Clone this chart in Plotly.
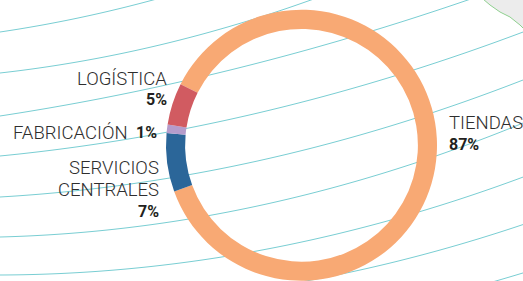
import plotly.graph_objects as go

# ---------------- data ----------------
categories = ["TIENDAS", "SERVICIOS CENTRALES", "FABRICACIÓN", "LOGÍSTICA"]
values = [87, 7, 1, 5]
colors = ["#F8A974", "#2B6699", "#B59CCB", "#D15B61"]

W, H = 523, 281


def px(x):
    return x / W


def py(y):
    return 1 - y / H


fig = go.Figure()

fig.add_trace(go.Pie(
    labels=categories,
    values=values,
    marker=dict(colors=colors, line=dict(width=0)),
    hole=0.859,
    sort=False,
    direction="clockwise",
    rotation=-63.2,
    textinfo="none",
    hoverinfo="label+percent",
    showlegend=False,
    domain=dict(x=[166 / W, 437 / W], y=[0.0, 0.966]),
))

# ---------------- labels (text from data) ----------------
name_font = dict(family="Roboto", size=18.5, color="#2E2E2E", weight=300)
pct_font = dict(family="Roboto", size=16, color="#231F20", weight=700)

# label placement: (name lines with y-centres, pct position, anchor)
placement = {
    "LOGÍSTICA": dict(anchor="right", x=168, name_y=[79.3], pct_x=168, pct_y=99.5),
    "FABRICACIÓN": dict(anchor="right", x=129, name_y=[133], pct_x=158, pct_y=133),
    "SERVICIOS CENTRALES": dict(anchor="right", x=160, name_y=[167.5, 189.7], pct_x=160, pct_y=211),
    "TIENDAS": dict(anchor="left", x=448, name_y=[122.7], pct_x=448, pct_y=144),
}

annotations = []
for cat, val in zip(categories, values):
    p = placement[cat]
    words = cat.split(" ") if len(p["name_y"]) > 1 else [cat]
    for word, yy in zip(words, p["name_y"]):
        annotations.append(dict(
            text=word, x=px(p["x"]), y=py(yy), xref="paper", yref="paper",
            xanchor=p["anchor"], yanchor="middle", showarrow=False,
            font=name_font, borderpad=0,
        ))
    annotations.append(dict(
        text=f"{val}%", x=px(p["pct_x"]), y=py(p["pct_y"]), xref="paper", yref="paper",
        xanchor=p["anchor"], yanchor="middle", showarrow=False,
        font=pct_font, borderpad=0,
    ))

# ---------------- decorative background curves ----------------
curve_params = [
    (32, -0.148, -0.0004),
    (73, -0.1126, -0.000393),
    (116, -0.153, -0.000203),
    (156, -0.0984, -0.000265),
    (197, -0.0584, -0.000316),
    (237, -0.0259, -0.000367),
    (275, -0.0031, -0.000352),
    (304.6, 0.03, -0.00035),
    (337.3, 0.06, -0.00035),
]
shapes = []
for y0, b, c in curve_params:
    pts = []
    for i in range(0, 531, 6):
        x = min(i, W + 4)
        y = y0 + b * x + c * x * x
        pts.append(f"{px(x):.5f},{py(y):.5f}")
    path = "M " + " L ".join(pts)
    shapes.append(dict(type="path", path=path, xref="paper", yref="paper",
                       line=dict(color="#79CED3", width=1), layer="below"))

# map fragment in the top-right corner
map_pts = [(483, -1), (490, 5), (500, 12), (510, 17), (520, 25), (524, 29)]
fill_path = "M " + " L ".join(f"{px(x):.5f},{py(y):.5f}" for x, y in map_pts) + \
    f" L {px(524):.5f},{py(-1):.5f} Z"
shapes.append(dict(type="path", path=fill_path, xref="paper", yref="paper",
                   fillcolor="#ECECEC", line=dict(width=0), layer="below"))
edge_path = "M " + " L ".join(f"{px(x):.5f},{py(y):.5f}" for x, y in map_pts)
shapes.append(dict(type="path", path=edge_path, xref="paper", yref="paper",
                   line=dict(color="#8FD08F", width=1), layer="below"))

fig.update_layout(
    width=W, height=H,
    margin=dict(l=0, r=0, t=0, b=0),
    paper_bgcolor="white",
    plot_bgcolor="white",
    annotations=annotations,
    shapes=shapes,
    showlegend=False,
)

fig.write_html(
    "out.html",
    config={"displayModeBar": False},
    post_script="document.body.style.margin='0';document.body.style.padding='0';",
)
